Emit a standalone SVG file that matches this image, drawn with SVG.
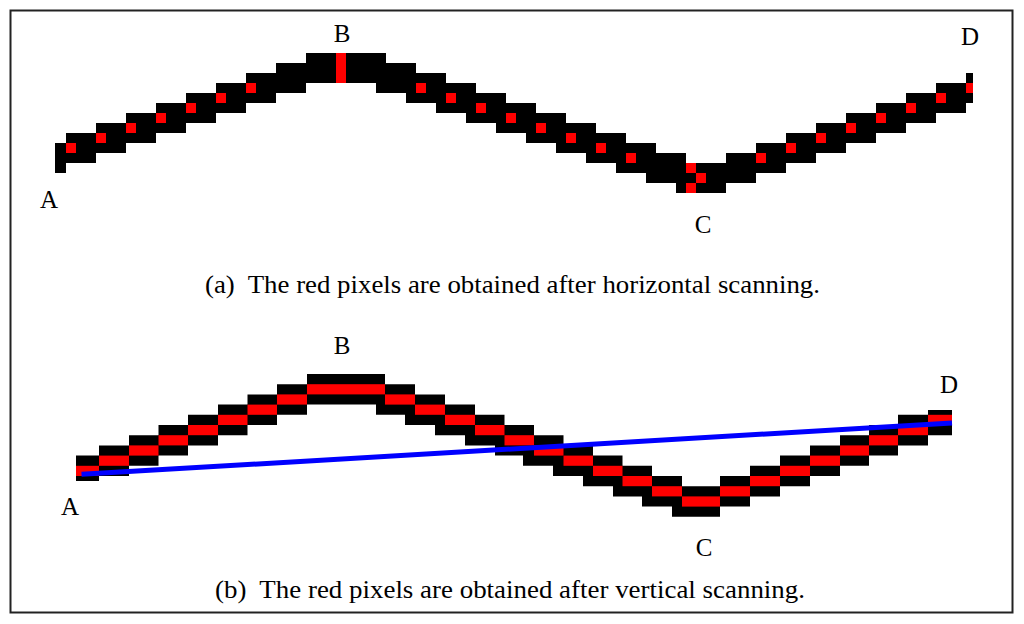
<svg xmlns="http://www.w3.org/2000/svg" width="1024" height="624" viewBox="0 0 1024 624">
  <style>
    .blk { fill: #000000; }
    .red { fill: #ff0000; }
    .lbl { font-family: "Liberation Serif", "Times New Roman", serif; font-size: 25px; fill: #000000; text-anchor: middle; }
    .cap { font-family: "Liberation Serif", "Times New Roman", serif; font-size: 26px; fill: #000000; }
  </style>
  <rect x="0" y="0" width="1024" height="624" fill="#ffffff"/>
  <rect id="frame" x="10.5" y="10.5" width="1002" height="602" fill="none" stroke="#222222" stroke-width="2"/>

  <g id="panel-a">
    <g id="line-a">
      <polygon class="blk" points="55,143 66,143 66,133 96,133 96,123 126,123 126,113 156,113 156,103 186,103 186,93 216,93 216,83 246,83 246,73 276,73 276,63 306,63 306,53 386,53 386,63 416,63 416,73 446,73 446,83 476,83 476,93 506,93 506,103 536,103 536,113 566,113 566,123 596,123 596,133 626,133 626,143 656,143 656,153 686,153 686,163 726,163 726,153 756,153 756,143 786,143 786,133 816,133 816,123 846,123 846,113 876,113 876,103 906,103 906,93 936,93 936,83 966,83 966,73 973,73 973,103 966,103 966,113 936,113 936,123 906,123 906,133 876,133 876,143 846,143 846,153 816,153 816,163 786,163 786,173 756,173 756,183 726,183 726,193 676,193 676,183 646,183 646,173 616,173 616,163 586,163 586,153 556,153 556,143 526,143 526,133 496,133 496,123 466,123 466,113 436,113 436,103 406,103 406,93 376,93 376,83 306,83 306,93 276,93 276,103 246,103 246,113 216,113 216,123 186,123 186,133 156,133 156,143 126,143 126,153 96,153 96,163 66,163 66,173 55,173"/>
    </g>
    <g id="red-a">
      <rect class="red" x="66" y="143" width="10" height="10"/>
      <rect class="red" x="96" y="133" width="10" height="10"/>
      <rect class="red" x="126" y="123" width="10" height="10"/>
      <rect class="red" x="156" y="113" width="10" height="10"/>
      <rect class="red" x="186" y="103" width="10" height="10"/>
      <rect class="red" x="216" y="93" width="10" height="10"/>
      <rect class="red" x="246" y="83" width="10" height="10"/>
      <rect class="red" x="336" y="53" width="10" height="30"/>
      <rect class="red" x="416" y="83" width="10" height="10"/>
      <rect class="red" x="446" y="93" width="10" height="10"/>
      <rect class="red" x="476" y="103" width="10" height="10"/>
      <rect class="red" x="506" y="113" width="10" height="10"/>
      <rect class="red" x="536" y="123" width="10" height="10"/>
      <rect class="red" x="566" y="133" width="10" height="10"/>
      <rect class="red" x="596" y="143" width="10" height="10"/>
      <rect class="red" x="626" y="153" width="10" height="10"/>
      <rect class="red" x="686" y="163" width="10" height="10"/>
      <rect class="red" x="696" y="173" width="10" height="10"/>
      <rect class="red" x="686" y="183" width="10" height="10"/>
      <rect class="red" x="756" y="153" width="10" height="10"/>
      <rect class="red" x="786" y="143" width="10" height="10"/>
      <rect class="red" x="816" y="133" width="10" height="10"/>
      <rect class="red" x="846" y="123" width="10" height="10"/>
      <rect class="red" x="876" y="113" width="10" height="10"/>
      <rect class="red" x="906" y="103" width="10" height="10"/>
      <rect class="red" x="936" y="93" width="10" height="10"/>
      <rect class="red" x="966" y="83" width="7" height="10"/>
    </g>
    <g id="labels-a">
      <text class="lbl" x="49" y="208">A</text>
      <text class="lbl" x="342" y="42">B</text>
      <text class="lbl" x="703" y="233">C</text>
      <text class="lbl" x="970" y="45">D</text>
    </g>
    <text id="caption-a" class="cap" x="205" y="293" textLength="615" lengthAdjust="spacingAndGlyphs" xml:space="preserve">(a)  The red pixels are obtained after horizontal scanning.</text>
  </g>

  <g id="panel-b">
    <g id="line-b">
      <polygon class="blk" points="76,455.6 99,455.6 99,445.4 129,445.4 129,435.2 158.5,435.2 158.5,425 188,425 188,414.8 218,414.8 218,404.6 247.5,404.6 247.5,394.4 277,394.4 277,384.2 307,384.2 307,374 385,374 385,384.2 415,384.2 415,394.4 445,394.4 445,404.6 475,404.6 475,414.8 504.5,414.8 504.5,425 534,425 534,435.2 563.5,435.2 563.5,445.4 593,445.4 593,455.6 622.5,455.6 622.5,465.8 652,465.8 652,476 682,476 682,486.2 720,486.2 720,476 750,476 750,465.8 780,465.8 780,455.6 810,455.6 810,445.4 840,445.4 840,435.2 869,435.2 869,425 898,425 898,414.8 928,414.8 928,410 952,410 952,435.2 928,435.2 928,445.4 898,445.4 898,455.6 869,455.6 869,465.8 840,465.8 840,476 810,476 810,486.2 780,486.2 780,496.4 750,496.4 750,506.6 720,506.6 720,516.8 672,516.8 672,506.6 642,506.6 642,496.4 613,496.4 613,486.2 583,486.2 583,476 553,476 553,465.8 523,465.8 523,455.6 495,455.6 495,445.4 465,445.4 465,435.2 435,435.2 435,425 405,425 405,414.8 376,414.8 376,404.6 307,404.6 307,414.8 277,414.8 277,425 247.5,425 247.5,435.2 218,435.2 218,445.4 188,445.4 188,455.6 158.5,455.6 158.5,465.8 129,465.8 129,476 99,476 99,481 76,481"/>
    </g>
    <g id="red-b">
      <rect class="red" x="76" y="465.8" width="23" height="10.2"/>
      <rect class="red" x="99" y="455.6" width="30" height="10.2"/>
      <rect class="red" x="129" y="445.4" width="29.5" height="10.2"/>
      <rect class="red" x="158.5" y="435.2" width="29.5" height="10.2"/>
      <rect class="red" x="188" y="425" width="30" height="10.2"/>
      <rect class="red" x="218" y="414.8" width="29.5" height="10.2"/>
      <rect class="red" x="247.5" y="404.6" width="29.5" height="10.2"/>
      <rect class="red" x="277" y="394.4" width="30" height="10.2"/>
      <rect class="red" x="307" y="384.2" width="78" height="10.2"/>
      <rect class="red" x="385" y="394.4" width="30" height="10.2"/>
      <rect class="red" x="415" y="404.6" width="30" height="10.2"/>
      <rect class="red" x="445" y="414.8" width="30" height="10.2"/>
      <rect class="red" x="475" y="425" width="29.5" height="10.2"/>
      <rect class="red" x="504.5" y="435.2" width="29.5" height="10.2"/>
      <rect class="red" x="534" y="445.4" width="29.5" height="10.2"/>
      <rect class="red" x="563.5" y="455.6" width="29.5" height="10.2"/>
      <rect class="red" x="593" y="465.8" width="29.5" height="10.2"/>
      <rect class="red" x="622.5" y="476" width="29.5" height="10.2"/>
      <rect class="red" x="652" y="486.2" width="30" height="10.2"/>
      <rect class="red" x="682" y="496.4" width="38" height="10.2"/>
      <rect class="red" x="720" y="486.2" width="30" height="10.2"/>
      <rect class="red" x="750" y="476" width="30" height="10.2"/>
      <rect class="red" x="780" y="465.8" width="30" height="10.2"/>
      <rect class="red" x="810" y="455.6" width="30" height="10.2"/>
      <rect class="red" x="840" y="445.4" width="29" height="10.2"/>
      <rect class="red" x="869" y="435.2" width="29" height="10.2"/>
      <rect class="red" x="898" y="425" width="30" height="10.2"/>
      <rect class="red" x="928" y="414.8" width="24" height="10.2"/>
    </g>
    <g id="connectors">
      <line id="chord-AD" x1="81.5" y1="474.3" x2="952" y2="423" stroke="#0000ff" stroke-width="5"/>
    </g>
    <g id="labels-b">
      <text class="lbl" x="70" y="515">A</text>
      <text class="lbl" x="342" y="354">B</text>
      <text class="lbl" x="704" y="556">C</text>
      <text class="lbl" x="949" y="393">D</text>
    </g>
    <text id="caption-b" class="cap" x="215" y="598" textLength="590" lengthAdjust="spacingAndGlyphs" xml:space="preserve">(b)  The red pixels are obtained after vertical scanning.</text>
  </g>
</svg>
